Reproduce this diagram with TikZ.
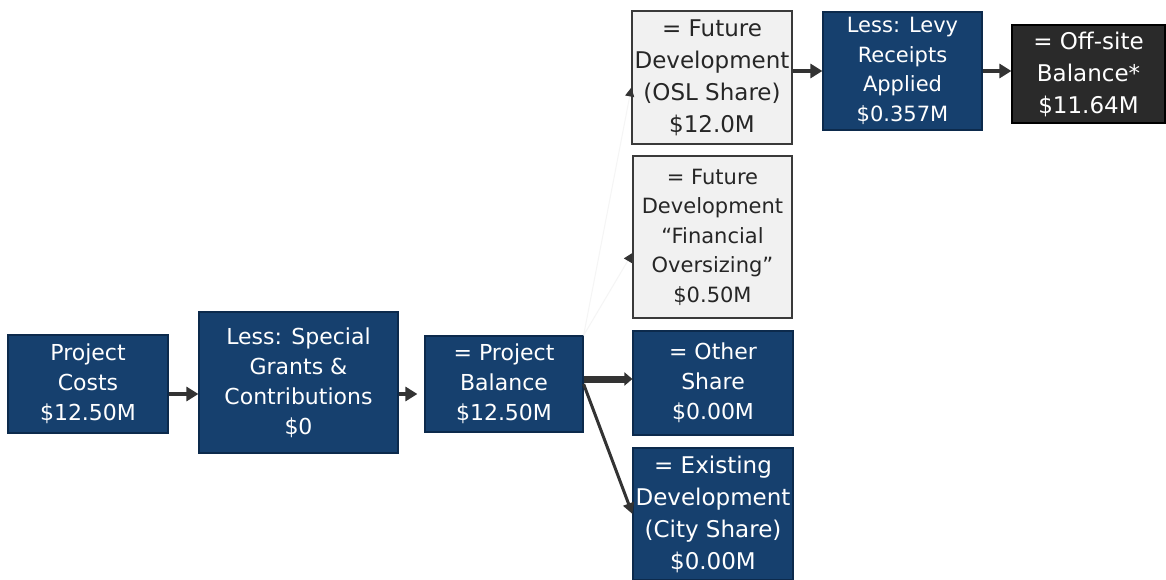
\documentclass[tikz,border=0pt]{standalone}
\usepackage{xcolor}
\usepackage{fontspec}
\setmainfont{DejaVu Sans}
\usepackage{tikz}
\usetikzlibrary{arrows.meta}

\definecolor{boxblue}{HTML}{16406E}
\definecolor{blueline}{HTML}{0C2A4C}
\definecolor{boxgrey}{HTML}{F1F1F1}
\definecolor{greyline}{HTML}{3A3A3A}
\definecolor{boxdark}{HTML}{2A2A2A}
\definecolor{arrowgrey}{HTML}{333333}

\begin{document}
\begin{tikzpicture}[x=1pt, y=-1pt,
		bluebox/.style={draw=blueline, line width=1.2pt, fill=boxblue, text=white, align=center, inner sep=0pt, font=\fontsize{22}{30}\selectfont},
		greybox/.style={draw=greyline, line width=1.2pt, fill=boxgrey, text=black!85, align=center, inner sep=0pt, font=\fontsize{21}{29.5}\selectfont},
		darkbox/.style={draw=black, line width=1.2pt, fill=boxdark, text=white, align=center, inner sep=0pt},
		bigtext/.style={font=\fontsize{23}{32}\selectfont},
		flow/.style={draw=arrowgrey, line width=4pt, -{Triangle[length=12pt,width=14pt]}},
		ghost/.style={draw=black!4, line width=1pt, -{Triangle[length=9pt,width=9pt,color=arrowgrey]}}]
		\fill[white] (0,0) rectangle (1166,580);
		\useasboundingbox (0,0) rectangle (1166,580);
		\node[bluebox, minimum width=160pt, minimum height=98pt] (pc) at (88,384) {Project\\Costs\\\$12.50M};
		\node[bluebox, minimum width=199pt, minimum height=141pt] (sg) at (298.5,382.5) {Less: Special\\Grants \&\\Contributions\\\$0};
		\node[bluebox, minimum width=158pt, minimum height=96pt] (pb) at (504,384) {= Project\\Balance\\\$12.50M};
		\node[bluebox, minimum width=160pt, minimum height=104pt] (os) at (713,383) {= Other\\Share\\\$0.00M};
		\node[bluebox, bigtext, minimum width=160pt, minimum height=132pt] (ed) at (713,514) {= Existing\\Development\\(City Share)\\\$0.00M};
		\node[greybox, bigtext, minimum width=160pt, minimum height=133pt] (fd) at (712,77.5) {= Future\\Development\\(OSL Share)\\\$12.0M};
		\node[greybox, minimum width=159pt, minimum height=162pt] (fo) at (712.5,237) {= Future\\Development\\``Financial\\Oversizing''\\\$0.50M};
		\node[bluebox, font=\fontsize{21}{29.5}\selectfont, minimum width=159pt, minimum height=118pt] (lr) at (902.5,71) {Less: Levy\\Receipts\\Applied\\\$0.357M};
		\node[darkbox, bigtext, minimum width=153pt, minimum height=98pt] (ob) at (1088.5,74) {= Off-site\\Balance*\\\$11.64M};

		\draw[flow] ([yshift=-10pt]pc.east) -- ([yshift=-10pt]pc.east -| sg.west);
		\draw[flow, shorten >=7pt] ([yshift=-10pt]pc.east -| sg.east) -- ([yshift=-10pt]pc.east -| pb.west);
		\draw[flow, line width=7pt, -{Triangle[length=8pt,width=13pt]}] ([yshift=5pt]pb.east) -- ([yshift=5pt]pb.east -| os.west);
		\draw[flow, line width=3pt, -{Triangle[length=11pt,width=11pt]}] (pb.east) -- (ed.west);
		\draw[ghost] (pb.north east) -- ([yshift=-10pt]fd.west);
		\draw[ghost] (pb.north east) -- ([yshift=-16pt]fo.west);
		\draw[flow] (fd.east |- lr.west) -- (lr.west);
		\draw[flow] (lr.east) -- (lr.east -| ob.west);
	\end{tikzpicture}
\end{document}
